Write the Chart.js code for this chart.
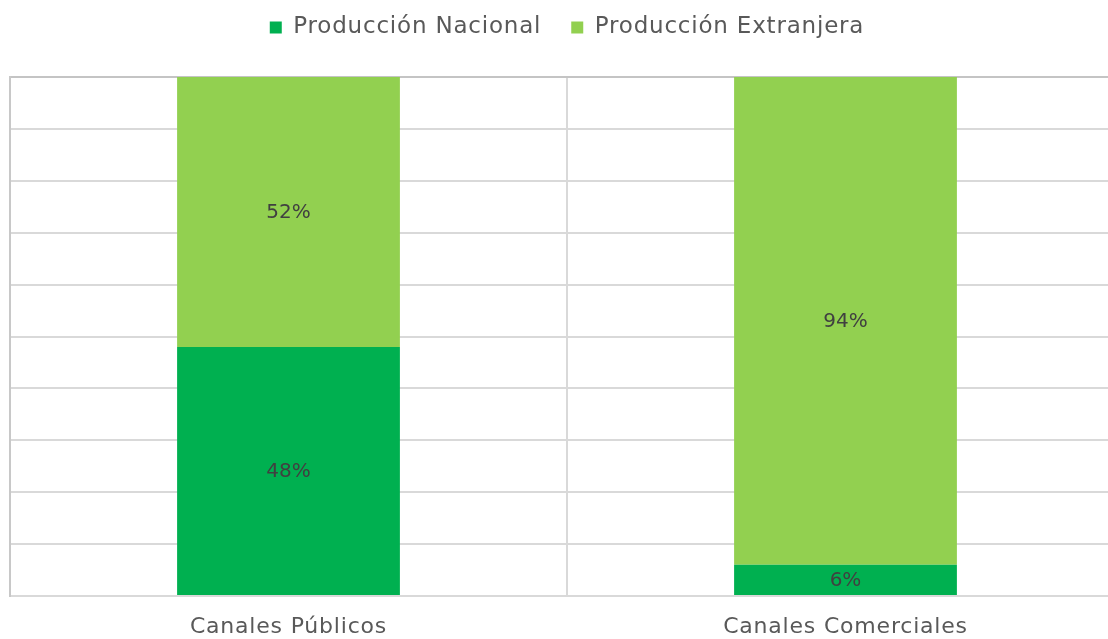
<!DOCTYPE html>
<html>
<head>
<meta charset="utf-8">
<script src="https://cdn.jsdelivr.net/npm/chart.js@4.4.1/dist/chart.umd.min.js"></script>
<style>
  html, body { margin: 0; padding: 0; background: #ffffff; overflow: hidden; }
  #wrap { width: 1124px; height: 639px; }
</style>
</head>
<body>
<div id="wrap"><canvas id="c" width="1124" height="639"></canvas></div>
<script>
// Share of programming by origin, per channel type (percent)
const categories = ['Canales Públicos', 'Canales Comerciales'];
const nacional = [48, 6];
const extranjera = [52, 94];
const seriesNames = ['Producción Nacional', 'Producción Extranjera'];

const FONT = '"DejaVu Sans", sans-serif';
const TEXT = '#595959';
const LEGEND_GAP = 28; // extra space between legend and plot

// Slightly wider tracking for the legend and axis text
const tracking = {
  id: 'tracking',
  beforeLayout(chart) {
    chart.ctx.letterSpacing = '0.8px';
    const lg = chart.legend;
    if (lg && !lg._gapAdded) {
      const fit = lg.fit.bind(lg);
      lg.fit = function () { fit(); this.height += LEGEND_GAP; };
      lg._gapAdded = true;
    }
  },
  beforeDraw(chart) { chart.ctx.letterSpacing = '0.8px'; }
};

// Writes each segment's percentage at the middle of its bar
const barLabels = {
  id: 'barLabels',
  afterDatasetsDraw(chart) {
    const ctx = chart.ctx;
    ctx.save();
    ctx.letterSpacing = '0px';
    ctx.font = '20px ' + FONT;
    ctx.fillStyle = '#404040';
    ctx.textAlign = 'center';
    ctx.textBaseline = 'middle';
    chart.data.datasets.forEach((ds, di) => {
      const meta = chart.getDatasetMeta(di);
      meta.data.forEach((bar, i) => {
        const mid = (bar.y + bar.base) / 2;
        ctx.fillText(ds.data[i] + '%', bar.x, mid + 1);
      });
    });
    ctx.restore();
  }
};

new Chart(document.getElementById('c'), {
  type: 'bar',
  data: {
    labels: categories,
    datasets: [
      { label: seriesNames[0], data: nacional, backgroundColor: '#00B050' },
      { label: seriesNames[1], data: extranjera, backgroundColor: '#92D050' }
    ]
  },
  options: {
    responsive: false,
    animation: false,
    devicePixelRatio: 1,
    layout: { padding: { left: 10, right: 0, top: -14, bottom: 0 } },
    datasets: { bar: { categoryPercentage: 1.0, barPercentage: 0.4 } },
    plugins: {
      legend: {
        position: 'top',
        labels: {
          font: { family: FONT, size: 23, lineHeight: 1 },
          color: TEXT,
          boxWidth: 12,
          boxHeight: 12,
          padding: 30
        }
      },
      tooltip: { enabled: false }
    },
    scales: {
      x: {
        stacked: true,
        grid: { color: '#d9d9d9', lineWidth: 2, drawTicks: false },
        border: { color: '#d9d9d9', width: 2 },
        ticks: { font: { family: FONT, size: 22, lineHeight: 1 }, color: TEXT, padding: 20 },
        afterFit: (s) => { s.height = 43; }
      },
      y: {
        stacked: true,
        min: 0,
        max: 100,
        ticks: { stepSize: 10, display: false },
        grid: {
          drawTicks: false,
          color: (c) => c.tick && c.tick.value === 100 ? '#c4c4c4' : '#d9d9d9',
          lineWidth: 2
        },
        border: { color: '#c8c8c8', width: 2 }
      }
    }
  },
  plugins: [tracking, barLabels]
});
</script>
</body>
</html>
